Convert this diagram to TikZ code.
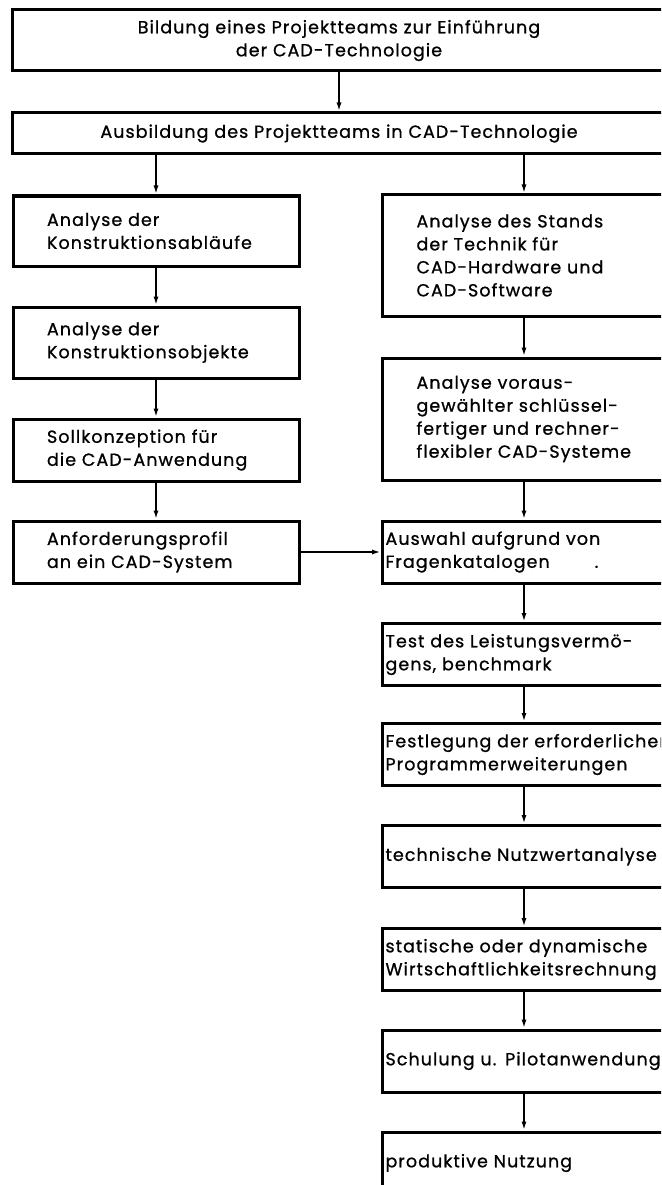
\documentclass[tikz,border=0pt]{standalone}
\usepackage{fontspec}
\setmainfont{Poppins}[LetterSpace=6,WordSpace=2.6,FakeBold=0.9]
\usetikzlibrary{arrows.meta}
\hyphenpenalty=10000
\exhyphenpenalty=10000

\tikzset{
  box/.style={draw, line width=3pt, inner ysep=0pt},
  wbox/.style={box, minimum width=654, text width=640, align=center},
  lbox/.style={box, minimum width=286, inner xsep=34, text width=218, align=left},
  rbox/.style={box, anchor=west, minimum width=420, inner xsep=34, text width=352, align=left},
  tbox/.style={box, anchor=west, minimum width=420, inner xsep=3, text width=414, align=left, minimum height=62},
  flow/.style={line width=2pt, -{Latex[length=9pt,width=5pt]}},
}

\begin{document}
\begin{tikzpicture}[x=1pt,y=-1pt,font=\fontsize{17.5}{23}\selectfont]
  \useasboundingbox (0,0) rectangle (661,1185);
  \clip (0,0) rectangle (661,1185);

  % oben
  \node[wbox, minimum height=61] (bildung) at (339,40.5) {Bildung eines Projektteams zur Einführung\\der CAD-Technologie};
  \node[wbox, minimum height=41] (ausbildung) at (339,133.5) {Ausbildung des Projektteams in CAD-Technologie};

  % linke Spalte
  \node[lbox, minimum height=70] (ablaeufe) at (156,231) {Analyse der\\Konstruktionsabläufe};
  \node[lbox, minimum height=71] (objekte) at (156,342.5) {Analyse der\\Konstruktionsobjekte};
  \node[lbox, minimum height=62] (soll) at (156,450) {Sollkonzeption für\\die CAD-Anwendung};
  \node[lbox, minimum height=62] (profil) at (156,552) {Anforderungsprofil\\an ein CAD-System};

  % rechte Spalte
  \coordinate (rx) at (524,0);
  \node[rbox, minimum height=121] (stand) at (381,255.5) {Analyse des Stands\\der Technik für\\CAD-Hardware und\\CAD-Software};
  \node[rbox, minimum height=122] (vorauswahl) at (381,419) {Analyse voraus-\\gewählter schlüssel-\\fertiger und rechner-\\flexibler CAD-Systeme};
  \node[tbox] (auswahl) at (381,552) {Auswahl aufgrund von\\Fragenkatalogen\hspace{45pt}.};
  \node[tbox] (test) at (381,654.5) {Test des Leistungsvermö-\\gens, benchmark};
  \node[tbox] (festlegung) at (381,754.5) {Festlegung der erforderlichen\\Programmerweiterungen};
  \node[tbox] (nutzwert) at (381,856.5) {technische Nutzwertanalyse};
  \node[tbox] (wirtschaft) at (381,959.5) {statische oder dynamische\\Wirtschaftlichkeitsrechnung};
  \node[tbox] (schulung) at (381,1061) {Schulung u. Pilotanwendung};
  \node[tbox] (nutzung) at (381,1163) {produktive Nutzung};

  \draw[flow] (bildung) -- (ausbildung);
  \draw[flow] (ausbildung.south -| ablaeufe) -- (ablaeufe);
  \draw[flow] (ablaeufe) -- (objekte);
  \draw[flow] (objekte) -- (soll);
  \draw[flow] (soll) -- (profil);
  \draw[flow] (ausbildung.south -| rx) -- (stand.north -| rx);
  \draw[flow] (stand.south -| rx) -- (vorauswahl.north -| rx);
  \draw[flow] (vorauswahl.south -| rx) -- (auswahl.north -| rx);
  \draw[flow] (profil) -- (auswahl);
  \draw[flow] (auswahl.south -| rx) -- (test.north -| rx);
  \draw[flow] (test.south -| rx) -- (festlegung.north -| rx);
  \draw[flow] (festlegung.south -| rx) -- (nutzwert.north -| rx);
  \draw[flow] (nutzwert.south -| rx) -- (wirtschaft.north -| rx);
  \draw[flow] (wirtschaft.south -| rx) -- (schulung.north -| rx);
  \draw[flow] (schulung.south -| rx) -- (nutzung.north -| rx);
\end{tikzpicture}
\end{document}
